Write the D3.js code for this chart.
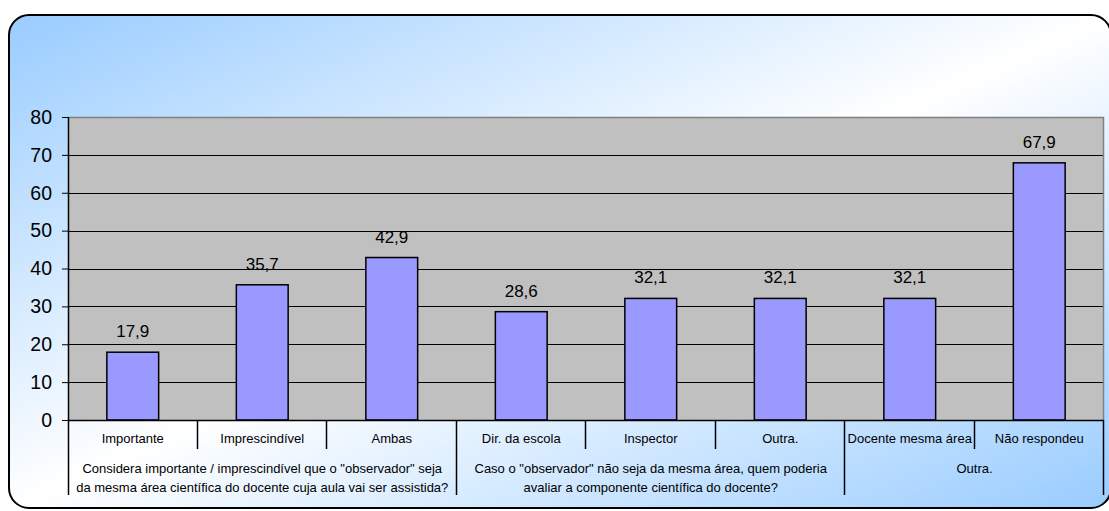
<!DOCTYPE html>
<html>
<head>
<meta charset="utf-8">
<script src="https://cdn.jsdelivr.net/npm/d3@7"></script>
<style>
  html, body { margin: 0; padding: 0; background: #ffffff; }
  svg { display: block; font-family: "Liberation Sans", Arial, sans-serif; }
</style>
</head>
<body>
<svg id="chart" width="1109" height="511"></svg>
<script>
// Answer categories, their percentages and the question groups they belong to
const categories = ["Importante", "Imprescindível", "Ambas", "Dir. da escola", "Inspector", "Outra.", "Docente mesma área", "Não respondeu"];
const values = [17.9, 35.7, 42.9, 28.6, 32.1, 32.1, 32.1, 67.9];
const groups = [
  { lines: ["Considera importante / imprescindível que o \"observador\" seja", "da mesma área científica do docente cuja aula vai ser assistida?"], span: 3 },
  { lines: ["Caso o \"observador\" não seja da mesma área, quem poderia", "avaliar a componente científica do docente?"], span: 3 },
  { lines: ["Outra."], span: 2 }
];
const yTicks = [0, 10, 20, 30, 40, 50, 60, 70, 80];

const svg = d3.select("#chart");

// Background gradient of the chart frame
const defs = svg.append("defs");
const grad = defs.append("linearGradient").attr("id", "bg")
  .attr("x1", 0).attr("y1", 0).attr("x2", 1).attr("y2", 1);
grad.append("stop").attr("offset", "0%").attr("stop-color", "#99ccff");
grad.append("stop").attr("offset", "50%").attr("stop-color", "#ffffff");
grad.append("stop").attr("offset", "100%").attr("stop-color", "#99ccff");

svg.append("rect")
  .attr("x", 9).attr("y", 15).attr("width", 1102).attr("height", 493)
  .attr("rx", 20).attr("ry", 20)
  .attr("fill", "url(#bg)").attr("stroke", "#000").attr("stroke-width", 2);

const plot = { left: 68, right: 1104, top: 117, bottom: 420 };

const x = d3.scaleBand().domain(categories).range([plot.left, plot.right]).paddingInner(0).paddingOuter(0);
const y = d3.scaleLinear().domain([0, 80]).range([plot.bottom, plot.top]);

// Plot area
svg.append("rect")
  .attr("x", plot.left).attr("y", plot.top)
  .attr("width", plot.right - plot.left).attr("height", plot.bottom - plot.top)
  .attr("fill", "#c0c0c0");

// Gridlines
svg.append("g").selectAll("line").data(yTicks.filter(d => d > 0 && d < 80)).join("line")
  .attr("x1", plot.left).attr("x2", plot.right)
  .attr("y1", d => Math.round(y(d)) + 0.5).attr("y2", d => Math.round(y(d)) + 0.5)
  .attr("stroke", "#000").attr("stroke-width", 1);

// Plot area top and right border
svg.append("path")
  .attr("d", `M${plot.left},${plot.top + 0.5}H${plot.right - 0.5}V${plot.bottom}`)
  .attr("fill", "none").attr("stroke", "#808080").attr("stroke-width", 1.5);

// Bars
const barW = x.bandwidth() * 0.4;
svg.append("g").selectAll("rect").data(values).join("rect")
  .attr("x", (d, i) => x(categories[i]) + (x.bandwidth() - barW) / 2)
  .attr("y", d => y(d))
  .attr("width", barW)
  .attr("height", d => y(0) - y(d))
  .attr("fill", "#9999ff").attr("stroke", "#000").attr("stroke-width", 1.5);

// Value labels
svg.append("g").selectAll("text").data(values).join("text")
  .attr("x", (d, i) => x(categories[i]) + x.bandwidth() / 2)
  .attr("y", d => y(d) - 15)
  .attr("text-anchor", "middle")
  .attr("font-size", 17).attr("fill", "#000")
  .text(d => d3.format(".1f")(d).replace(".", ","));

// Y axis
const yAxis = d3.axisLeft(y).tickValues(yTicks).tickSize(6).tickSizeOuter(0).tickPadding(10);
const gy = svg.append("g").attr("transform", `translate(${plot.left},0)`).call(yAxis);
gy.select(".domain").remove();
gy.selectAll(".tick line").attr("stroke", "#000").attr("stroke-width", 1);
gy.selectAll(".tick text").attr("font-size", 19.5).attr("fill", "#000")
  .attr("font-family", "'Liberation Sans', Arial, sans-serif");

// Axis lines
svg.append("line").attr("x1", plot.left + 0.5).attr("x2", plot.left + 0.5)
  .attr("y1", plot.top).attr("y2", 495).attr("stroke", "#000").attr("stroke-width", 1.5);
svg.append("line").attr("x1", plot.left).attr("x2", plot.right)
  .attr("y1", plot.bottom + 0.5).attr("y2", plot.bottom + 0.5).attr("stroke", "#000").attr("stroke-width", 1.5);

// Category labels and dividers
svg.append("g").selectAll("text").data(categories).join("text")
  .attr("x", d => x(d) + x.bandwidth() / 2)
  .attr("y", 443)
  .attr("text-anchor", "middle").attr("font-size", 13).attr("fill", "#000")
  .text(d => d);

let gStart = 0;
const groupBounds = groups.map(g => {
  const s = gStart; gStart += g.span;
  return { g, x0: x(categories[s]), x1: x(categories[s + g.span - 1]) + x.bandwidth() };
});
const groupEdges = new Set(groupBounds.map(b => Math.round(b.x1)));

svg.append("g").selectAll("line").data(categories.slice(1).map(c => x(c)).concat([plot.right])).join("line")
  .attr("x1", d => Math.round(d) - 0.5).attr("x2", d => Math.round(d) - 0.5)
  .attr("y1", plot.bottom)
  .attr("y2", d => groupEdges.has(Math.round(d)) ? 495 : 449)
  .attr("stroke", "#000").attr("stroke-width", 1.5);

// Group labels
const gl = svg.append("g").selectAll("text").data(groupBounds).join("text")
  .attr("x", b => (b.x0 + b.x1) / 2)
  .attr("y", 473)
  .attr("text-anchor", "middle").attr("font-size", 13).attr("fill", "#000");
gl.selectAll("tspan").data(b => b.g.lines).join("tspan")
  .attr("x", function () { return d3.select(this.parentNode).attr("x"); })
  .attr("dy", (d, i) => i === 0 ? 0 : 19)
  .text(d => d);
</script>
</body>
</html>
